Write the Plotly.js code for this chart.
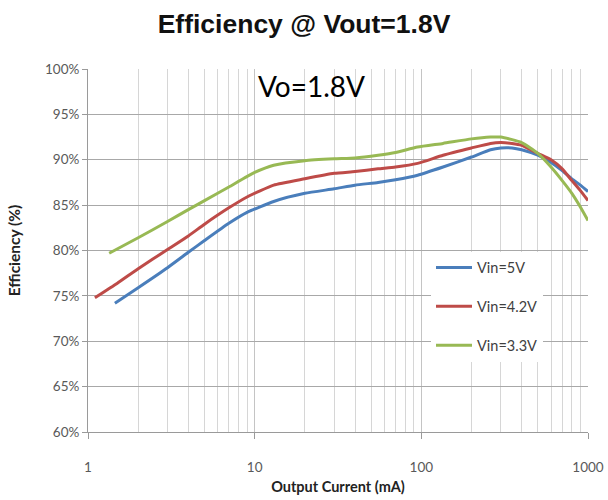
<!DOCTYPE html>
<html>
<head>
<meta charset="utf-8">
<script src="https://cdn.plot.ly/plotly-3.0.1.min.js"></script>
<style>html,body{margin:0;padding:0;background:#fff;}#chart{width:608px;height:500px;}</style>
</head>
<body>
<div id="chart"></div>
<script>
// ---- data ----
const seriesNames = ["Vin=5V", "Vin=4.2V", "Vin=3.3V"];

const x5V = [1.45, 2, 3, 4, 5, 7, 9, 13, 20, 30, 40, 55, 70, 95, 135, 200, 260, 300, 350, 400, 500, 600, 700, 800, 900, 1000];
const y5V = [74.2, 75.9, 78.1, 79.8, 81.1, 83.0, 84.2, 85.4, 86.3, 86.8, 87.2, 87.5, 87.8, 88.3, 89.2, 90.3, 91.1, 91.3, 91.3, 91.1, 90.5, 89.7, 88.8, 87.9, 87.2, 86.5];

const x42V = [1.1, 1.5, 2, 3, 4, 5, 7, 9, 13, 20, 30, 40, 55, 70, 95, 135, 200, 260, 300, 350, 400, 500, 600, 700, 800, 900, 1000];
const y42V = [74.8, 76.4, 78.0, 80.1, 81.6, 82.9, 84.7, 85.9, 87.2, 87.9, 88.5, 88.7, 89.0, 89.2, 89.6, 90.5, 91.3, 91.8, 91.9, 91.8, 91.6, 90.7, 90.0, 89.0, 87.7, 86.6, 85.5];

const x33V = [1.34, 2, 3, 4, 5, 7, 10, 13, 20, 30, 40, 55, 70, 95, 135, 200, 260, 300, 400, 500, 600, 700, 800, 900, 1000];
const y33V = [79.7, 81.4, 83.2, 84.5, 85.5, 87.0, 88.6, 89.4, 89.9, 90.1, 90.2, 90.5, 90.8, 91.4, 91.8, 92.3, 92.5, 92.5, 91.9, 90.7, 89.2, 87.7, 86.3, 84.8, 83.3];

const xMajorTicks = [1, 10, 100, 1000];
const xMajorLabels = ["1", "10", "100", "1000"];
const xMinorTicks = [2, 3, 4, 5, 6, 7, 8, 9, 20, 30, 40, 50, 60, 70, 80, 90, 200, 300, 400, 500, 600, 700, 800, 900];

const titleText = "Efficiency @ Vout=1.8V";
const xTitle = "Output Current (mA)";
const yTitle = "Efficiency (%)";
const noteText = "Vo=1.8V";

// ---- styles ----
const colors = ["#4A7EBB", "#BE4B48", "#98B954"];
const xs = [x5V, x42V, x33V];
const ys = [y5V, y42V, y33V];

const traces = xs.map((x, i) => ({
  x: x, y: ys[i], type: "scatter", mode: "lines", name: seriesNames[i],
  legendgroup: "g" + i,
  line: {color: colors[i], width: 3, shape: "spline", smoothing: 0.5}
}));

const font = "Lato, 'Open Sans', sans-serif";
const layout = {
  width: 608, height: 500,
  paper_bgcolor: "#fff", plot_bgcolor: "#fff",
  margin: {l: 88, r: 20, t: 69, b: 68},
  showlegend: true,
  title: {text: "<b>" + titleText + "</b>", x: 0.5, xanchor: "center", y: 0.952, yanchor: "middle",
          font: {family: "'Liberation Sans', Arial, sans-serif", size: 26.5, color: "#111"}},
  xaxis: {
    type: "log", range: [0, 3.0],
    tickmode: "array", tickvals: xMajorTicks, ticktext: xMajorLabels,
    ticks: "outside", ticklen: 6, tickcolor: "#9a9a9a",
    tickfont: {family: font, size: 13.5, color: "#595959"},
    ticklabelstandoff: 17,
    showgrid: true, gridcolor: "#c4c4c4", gridwidth: 1,
    minor: {tickmode: "array", tickvals: xMinorTicks, showgrid: true, gridcolor: "#d6d6d6", gridwidth: 1, ticks: ""},
    showline: true, linecolor: "#9a9a9a", linewidth: 1,
    zeroline: false,
    title: {text: "<b>" + xTitle + "</b>", standoff: 7, font: {family: font, size: 14.5, color: "#222"}}
  },
  yaxis: {
    range: [60, 100], dtick: 5, tick0: 60, ticksuffix: "%",
    ticks: "outside", ticklen: 5, tickcolor: "#9a9a9a",
    tickfont: {family: font, size: 13.5, color: "#595959"},
    showgrid: true, gridcolor: "#a8a8a8", gridwidth: 1,
    showline: true, linecolor: "#9a9a9a", linewidth: 1,
    zeroline: false,
    title: {text: "<b>" + yTitle + "</b>", standoff: 20, font: {family: font, size: 15.5, color: "#222"}}
  },
  legend: {
    x: 0.686, xanchor: "left", y: 0.497, yanchor: "top",
    bgcolor: "#fff", borderwidth: 0,
    font: {family: font, size: 14.5, color: "#404040"},
    traceorder: "grouped", tracegroupgap: 17, itemwidth: 36
  },
  annotations: [{
    text: noteText, xref: "paper", yref: "paper", x: 0.336, y: 0.952, xanchor: "left", yanchor: "middle",
    showarrow: false, font: {family: font, size: 28, color: "#000"}
  }]
};

Plotly.newPlot("chart", traces, layout, {displayModeBar: false, staticPlot: true});
</script>
</body>
</html>
